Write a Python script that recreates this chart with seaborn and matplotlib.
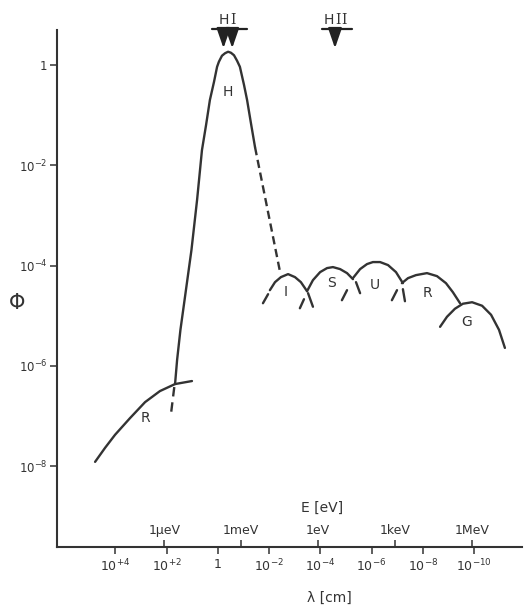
import matplotlib
matplotlib.use("Agg")
import matplotlib.pyplot as plt
import matplotlib.ticker as mticker
import numpy as np
import pandas as pd
import seaborn as sns

# ---------------- data (log10 values) ----------------
# low-energy radio branch "R"
r_lo_loglam = [4.79, 4.40, 4.01, 3.43, 2.84, 2.26, 1.67, 1.01]
r_lo_logphi = [-7.91, -7.63, -7.37, -7.04, -6.72, -6.50, -6.36, -6.30]

# microwave peak "H"
h_loglam = [1.67, 1.59, 1.46, 1.30, 1.03, 0.81, 0.62, 0.46, 0.31, 0.15, 0.03, -0.04, -0.16,
            -0.28, -0.40, -0.51, -0.63, -0.75, -0.86, -1.02, -1.14, -1.29, -1.45]
h_logphi = [-6.36, -5.88, -5.28, -4.69, -3.69, -2.69, -1.70, -1.20, -0.70, -0.34, -0.04, 0.06,
            0.18, 0.23, 0.26, 0.24, 0.19, 0.08, -0.04, -0.40, -0.70, -1.16, -1.64]

# dashed continuations
h_dash_loglam = [-1.45, -2.44]
h_dash_logphi = [-1.64, -4.16]
r_dash_loglam = [1.70, 1.83]
r_dash_logphi = [-6.42, -6.96]

# high-energy arcs
i_loglam = [-2.03, -2.23, -2.46, -2.74, -3.01, -3.24, -3.48]
i_logphi = [-4.49, -4.33, -4.23, -4.17, -4.23, -4.33, -4.51]
s_loglam = [-3.48, -3.71, -3.99, -4.26, -4.49, -4.77, -5.04, -5.27]
s_logphi = [-4.51, -4.29, -4.13, -4.05, -4.03, -4.07, -4.15, -4.27]
u_loglam = [-5.27, -5.55, -5.82, -6.05, -6.33, -6.64, -6.95, -7.22]
u_logphi = [-4.25, -4.07, -3.97, -3.93, -3.93, -3.99, -4.13, -4.35]
r_hi_loglam = [-7.18, -7.42, -7.73, -8.16, -8.55, -8.90, -9.17, -9.45]
r_hi_logphi = [-4.35, -4.25, -4.19, -4.15, -4.21, -4.35, -4.53, -4.75]
g_loglam = [-8.67, -8.94, -9.25, -9.56, -9.92, -10.31, -10.66, -10.97, -11.20]
g_logphi = [-5.22, -5.02, -4.86, -4.76, -4.73, -4.80, -4.98, -5.28, -5.64]

# short extrapolation stubs (start, end)
stub_loglam = [(-1.76, -1.96), (-3.52, -3.71), (-3.20, -3.36), (-5.39, -5.55),
               (-4.84, -5.04), (-7.22, -7.30), (-6.79, -6.99)]
stub_logphi = [(-4.75, -4.57), (-4.55, -4.82), (-4.85, -4.67), (-4.33, -4.55),
               (-4.69, -4.49), (-4.47, -4.71), (-4.69, -4.49)]

# curve labels
label_text = ["R", "H", "I", "S", "U", "R", "G"]
label_loglam = [2.84, -0.40, -2.66, -4.45, -6.13, -8.16, -9.72]
label_logphi = [-7.04, -0.54, -4.53, -4.35, -4.39, -4.55, -5.13]

# axis ticks
y_tick_exp = [0, -2, -4, -6, -8]
y_tick_labels = ["1", "10$^{-2}$", "10$^{-4}$", "10$^{-6}$", "10$^{-8}$"]
lam_tick_exp = [4, 2, 0, -2, -4, -6, -8, -10]
lam_tick_labels = ["10$^{+4}$", "10$^{+2}$", "1", "10$^{-2}$", "10$^{-4}$",
                   "10$^{-6}$", "10$^{-8}$", "10$^{-10}$"]
e_tick_values = [1e-6, 1e-3, 1.0, 1e3, 1e6]
e_tick_labels = ["1µeV", "1meV", "1eV", "1keV", "1MeV"]
HC_EV_CM = 1.2398e-4  # E[eV] * lambda[cm]

# ---------------- style ----------------
sns.set_theme(style="ticks")
plt.rcParams["font.family"] = ["DejaVu Sans"]
plt.rcParams["mathtext.fontset"] = "custom"
plt.rcParams["mathtext.rm"] = "DejaVu Serif"
plt.rcParams["mathtext.default"] = "regular"

INK = "#333333"
LW = 1.7

fig = plt.figure(figsize=(5.25, 6.05), dpi=100)
ax = fig.add_axes([57 / 525, 1 - 547 / 605, 465 / 525, 517 / 605])


def curve(lx, ly, **kw):
    df = pd.DataFrame({"lam": np.power(10.0, lx), "phi": np.power(10.0, ly)})
    sns.lineplot(data=df, x="lam", y="phi", sort=False, estimator=None,
                 color=INK, lw=LW, ax=ax, **kw)


ax.set_xscale("log")
ax.set_yscale("log")

for lx, ly in [(r_lo_loglam, r_lo_logphi), (h_loglam, h_logphi), (i_loglam, i_logphi),
               (s_loglam, s_logphi), (u_loglam, u_logphi), (r_hi_loglam, r_hi_logphi),
               (g_loglam, g_logphi)]:
    curve(lx, ly)

curve(h_dash_loglam, h_dash_logphi, dashes=(3.5, 2.0))
curve(r_dash_loglam, r_dash_logphi, dashes=(4.0, 2.5))
for lx, ly in zip(stub_loglam, stub_logphi):
    curve(list(lx), list(ly))

for t, lx, ly in zip(label_text, label_loglam, label_logphi):
    ax.text(10 ** lx, 10 ** ly, t, ha="center", va="center", fontsize=10, color=INK)

# HI / HII markers above the peak
bar_y = 10 ** 0.71
tip_y = 10 ** 0.33
arrow_kw = dict(arrowstyle="-|>,head_length=1.1,head_width=0.38", color="#222222",
                lw=1.6, mutation_scale=11, shrinkA=0, shrinkB=0)
for lx in (-0.22, -0.56, -4.57):
    ax.annotate("", xy=(10 ** lx, tip_y), xytext=(10 ** lx, bar_y),
                arrowprops=arrow_kw, annotation_clip=False)
ax.plot([10 ** 0.23, 10 ** -1.14], [bar_y, bar_y], color="#222222", lw=1.6, clip_on=False)
ax.plot([10 ** -4.06, 10 ** -5.23], [bar_y, bar_y], color="#222222", lw=1.6, clip_on=False)
ax.text(10 ** -0.40, 10 ** 0.91, r"H$\,\mathrm{I}$", ha="center", va="center",
        fontsize=10, color=INK, clip_on=False)
ax.text(10 ** -4.60, 10 ** 0.91, r"H$\,\mathrm{II}$", ha="center", va="center",
        fontsize=10, color=INK, clip_on=False)

# axes limits / ticks
ax.set_xlim(10 ** 6.276, 10 ** -11.867)
ax.set_ylim(10 ** -9.606, 10 ** 0.693)
ax.set_yticks([10.0 ** e for e in y_tick_exp], labels=y_tick_labels)
ax.set_xticks([10.0 ** e for e in lam_tick_exp], labels=lam_tick_labels)
ax.xaxis.set_minor_locator(mticker.NullLocator())
ax.yaxis.set_minor_locator(mticker.NullLocator())
ax.tick_params(axis="both", length=5, width=1.1, color=INK, labelcolor=INK, pad=2)
ax.tick_params(axis="y", labelsize=8.5)
ax.tick_params(axis="x", labelsize=9, pad=3)
for side in ("top", "right"):
    ax.spines[side].set_visible(False)
for side in ("left", "bottom"):
    ax.spines[side].set_color(INK)
    ax.spines[side].set_linewidth(1.5)
ax.set_xlabel("λ [cm]", fontsize=10, color=INK)
ax.xaxis.set_label_coords(0.585, -0.085)
ax.set_ylabel("Φ", fontsize=15, color=INK, rotation=0, va="center", ha="center")
ax.yaxis.set_label_coords(-0.086, 0.472)

# energy axis drawn on the same baseline
sec = ax.secondary_xaxis("top", functions=(lambda lam: HC_EV_CM / lam,
                                           lambda e: HC_EV_CM / e))
sec.set_location(0.0)
sec.set_xticks(e_tick_values, labels=e_tick_labels)
sec.xaxis.set_minor_locator(mticker.NullLocator())
sec.tick_params(axis="x", length=5, width=1.1, color=INK, labelcolor=INK,
                labelsize=9, pad=2)
sec.spines["top"].set_visible(False)
ax.text(0.57, 0.0754, "E [eV]", transform=ax.transAxes, ha="center", va="center",
        fontsize=10, color=INK)

ax.set_facecolor("white")
fig.patch.set_facecolor("white")
fig.savefig("out.png", dpi=100, facecolor="white")
